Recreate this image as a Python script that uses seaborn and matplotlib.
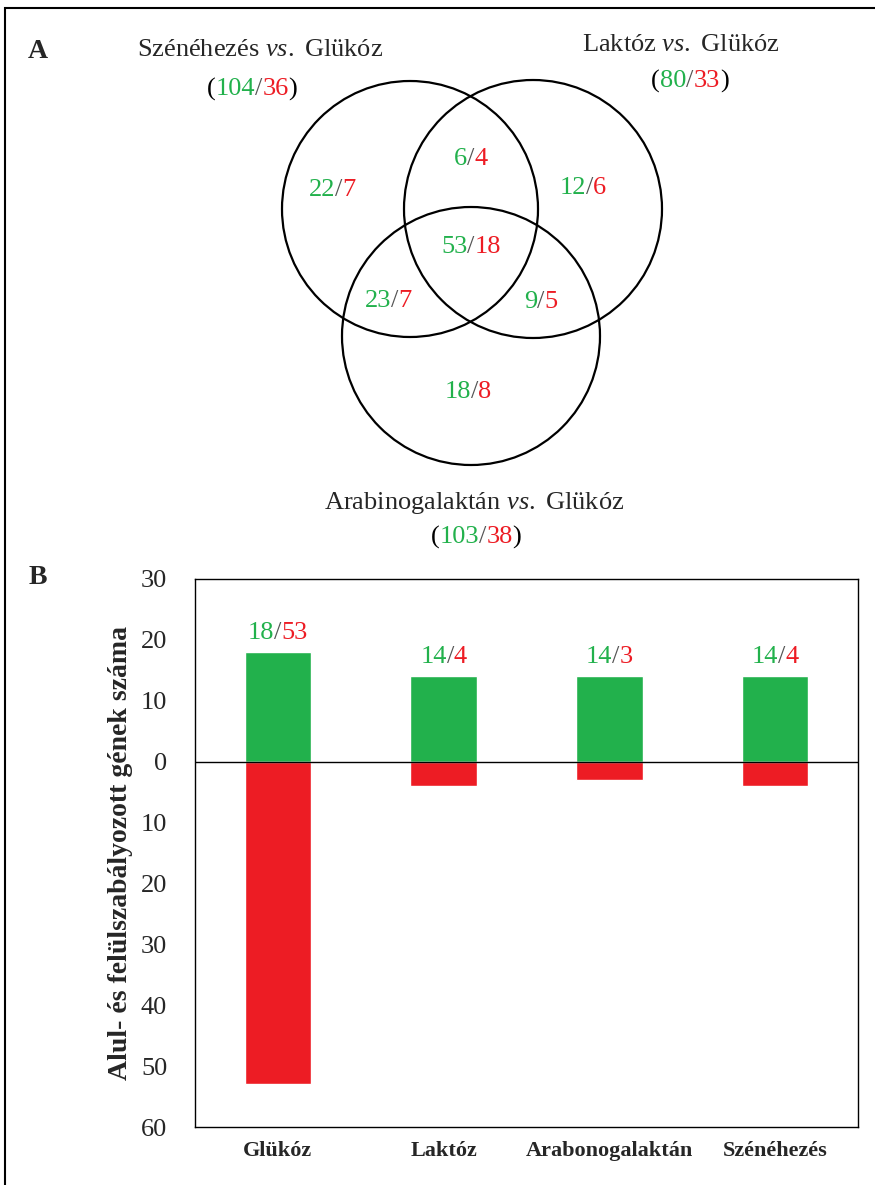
import matplotlib
matplotlib.use("Agg")
import matplotlib.pyplot as plt
from matplotlib.patches import Circle, Rectangle
from matplotlib.offsetbox import TextArea, HPacker, AnnotationBbox
import seaborn as sns
import pandas as pd

# ---------------- data ----------------
categories = ["Glükóz", "Laktóz", "Arabonogalaktán", "Szénéhezés"]
up_counts = [18, 14, 14, 14]
down_counts = [53, 4, 3, 4]

venn_set_names = ["Szénéhezés", "Laktóz", "Arabinogalaktán"]
venn_set_totals_up = [104, 80, 103]
venn_set_totals_down = [36, 33, 38]
# regions: only1, 1&2, only2, all, 1&3, 2&3, only3
venn_region_up = [22, 6, 12, 53, 23, 9, 18]
venn_region_down = [7, 4, 6, 18, 7, 5, 8]

GREEN = "#22B14C"
RED = "#ED1C24"
SLASH = "#555555"

sns.set_theme(style="white")
plt.rcParams["font.family"] = ["Liberation Serif", "DejaVu Serif"]
plt.rcParams["mathtext.fontset"] = "custom"
plt.rcParams["mathtext.rm"] = "Liberation Serif"
plt.rcParams["mathtext.it"] = "Liberation Serif:italic"

W, H = 875, 1185
fig = plt.figure(figsize=(W / 100, H / 100), dpi=100)
fig.patch.set_facecolor("white")

# outer frame (left + top visible)
fig.patches.append(Rectangle((5 / W, -0.2), 2.0, 1.2 - 8 / H, transform=fig.transFigure,
                             fill=False, ec="black", lw=1.5, zorder=0))

# ---------------- Venn (panel A) ----------------
axv = fig.add_axes([0, 0, 1, 1])
axv.set_xlim(0, W)
axv.set_ylim(H, 0)
axv.axis("off")
axv.patch.set_alpha(0)

circle_layout = [(410, 209, 128), (533, 209, 129), (471, 336, 129)]
for cx, cy, r in circle_layout:
    axv.add_patch(Circle((cx, cy), r, fill=False, ec="black", lw=1.6))


def colored_pair(ax, x, y, g, rd, size, paren=False, coords="data", offset=None):
    parts = []
    if paren:
        parts.append(TextArea("(", textprops=dict(color="black", size=size)))
    parts += [TextArea(str(g), textprops=dict(color=GREEN, size=size)),
              TextArea("/", textprops=dict(color=SLASH, size=size)),
              TextArea(str(rd), textprops=dict(color=RED, size=size))]
    if paren:
        parts.append(TextArea(")", textprops=dict(color="black", size=size)))
    box = HPacker(children=parts, pad=0, sep=0, align="baseline")
    if offset is not None:
        kw = dict(xybox=offset, boxcoords="offset points", box_alignment=(0.5, 0.0))
    else:
        kw = dict(box_alignment=(0.5, 0.5))
    ab = AnnotationBbox(box, (x, y), xycoords=coords, frameon=False, pad=0, **kw)
    ax.add_artist(ab)


region_pos = [(332, 190), (471, 159), (583, 188), (471, 247), (388, 301), (541, 302), (468, 392)]
for (x, y), g, rd in zip(region_pos, venn_region_up, venn_region_down):
    colored_pair(axv, x, y, g, rd, 19)

title_pos = [(260, 50), (681, 45), (474, 503)]
total_pos = [(252, 89), (690, 81), (476, 537)]
for name, (tx, ty), (px, py), g, rd in zip(venn_set_names, title_pos, total_pos,
                                           venn_set_totals_up, venn_set_totals_down):
    axv.text(tx, ty, name + r" $\mathit{vs.}$ Glükóz", ha="center", va="center", size=19)
    colored_pair(axv, px, py, g, rd, 19, paren=True)

axv.text(38, 52, "A", ha="center", va="center", size=20, weight="bold")
axv.text(38, 578, "B", ha="center", va="center", size=20, weight="bold")

# ---------------- Bar chart (panel B) ----------------
ax = fig.add_axes([195 / W, 1 - 1127 / H, (858 - 195) / W, (1127 - 579) / H])
df = pd.DataFrame({"cat": categories, "up": up_counts,
                   "down": [-d for d in down_counts]})
sns.barplot(data=df, x="cat", y="up", color=GREEN, width=0.4, saturation=1, ax=ax)
sns.barplot(data=df, x="cat", y="down", color=RED, width=0.4, saturation=1, ax=ax)
ax.axhline(0, color="black", lw=1.0, zorder=5)
ax.set_xlim(-0.5, 3.5)
ax.set_ylim(-60, 30)
ticks = list(range(-60, 31, 10))
ax.set_yticks(ticks)
ax.set_yticklabels([str(abs(t)) for t in ticks], size=19)
ax.set_xticks(range(len(categories)))
ax.set_xticklabels(categories, size=16, weight="bold")
ax.tick_params(axis="both", length=0, pad=10)
ax.tick_params(axis="y", pad=20)
ax.set_xlabel("")
ax.set_ylabel("Alul- és felülszabályozott gének száma", size=20, weight="bold", labelpad=6)
for s in ax.spines.values():
    s.set_visible(True)
    s.set_color("black")
    s.set_linewidth(1.0)

for i, (u, d) in enumerate(zip(up_counts, down_counts)):
    colored_pair(ax, i, u, u, d, 19, offset=(0, 6))

fig.savefig("out.png", dpi=100, facecolor="white")
